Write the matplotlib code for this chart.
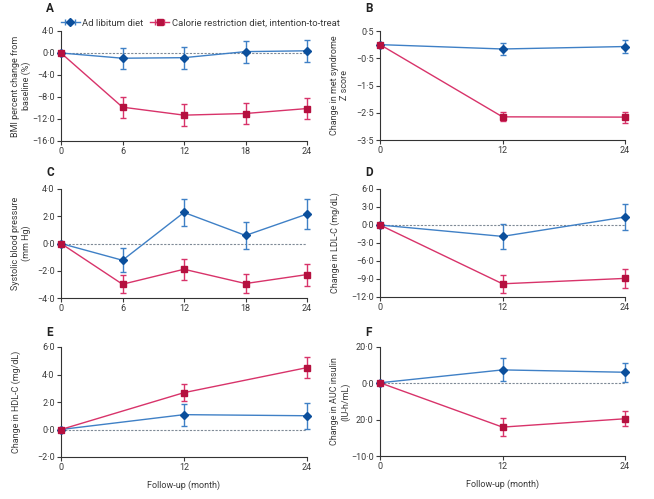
import numpy as np
import matplotlib
matplotlib.use("Agg")
import matplotlib.pyplot as plt

plt.rcParams['font.family'] = ['Roboto', 'DejaVu Sans']
plt.rcParams['font.size'] = 6.5

# data (mean, +/- error)
m5 = [0, 6, 12, 18, 24]
m3 = [0, 12, 24]

bmi_al = [0, -0.95, -0.85, 0.25, 0.4]
bmi_al_err = [0, 1.9, 2.0, 2.0, 1.95]
bmi_cr = [0, -9.85, -11.3, -11.0, -10.1]
bmi_cr_err = [0, 1.9, 2.0, 1.95, 1.95]

met_al = [0, -0.16, -0.07]
met_al_err = [0, 0.21, 0.24]
met_cr = [0, -2.65, -2.66]
met_cr_err = [0, 0.16, 0.2]

sbp_al = [0, -1.23, 2.28, 0.59, 2.16]
sbp_al_err = [0, 0.87, 1.02, 0.96, 1.07]
sbp_cr = [0, -2.99, -1.89, -2.94, -2.28]
sbp_cr_err = [0, 0.65, 0.78, 0.72, 0.81]

ldl_al = [0, -1.9, 1.33]
ldl_al_err = [0, 2.05, 2.15]
ldl_cr = [0, -9.8, -8.9]
ldl_cr_err = [0, 1.5, 1.65]

hdl_al = [0, 1.08, 1.0]
hdl_al_err = [0, 0.8, 0.96]
hdl_cr = [0, 2.68, 4.5]
hdl_cr_err = [0, 0.6, 0.76]

auc_al = [0.3, 7.4, 6.1]
auc_al_err = [0, 6.3, 5.3]
auc_cr = [0.3, -24.1, -19.5]
auc_cr_err = [0, 4.8, 4.2]

blue_line, blue_mk = '#3f80c6', '#0b4f9c'
red_line, red_mk = '#d8336a', '#b5103f'
txt = '#3a3a3a'

W, H = 654, 499


def box(l, t, r, b):
    return [l / W, 1 - b / H, (r - l) / W, (b - t) / H]


def fmt(v):
    s = f"{abs(v):.1f}".replace('.', '\u00b7')
    return ('\u2212' if v < 0 else '') + s


fig = plt.figure(figsize=(W / 100, H / 100), dpi=100)

# letter, axes box (px), letter y (px), x, series..., y ticks, tick labels, y title, zero line, x title
panels = [
    ("A", (61, 31, 307, 141), 8, m5, bmi_al, bmi_al_err, bmi_cr, bmi_cr_err,
     [4, 0, -4, -8, -12, -16], None, "BMI percent change from\nbaseline (%)", True, False),
    ("B", (380, 31, 625, 140), 8, m3, met_al, met_al_err, met_cr, met_cr_err,
     [0.5, -0.5, -1.5, -2.5, -3.5], None, "Change in met syndrome\nZ score", False, False),
    ("C", (61, 189, 307, 298), 173, m5, sbp_al, sbp_al_err, sbp_cr, sbp_cr_err,
     [4, 2, 0, -2, -4], None, "Systolic blood pressure\n(mm Hg)", True, False),
    ("D", (380, 189, 625, 297), 173, m3, ldl_al, ldl_al_err, ldl_cr, ldl_cr_err,
     [6, 3, 0, -3, -6, -9, -12], None, "Change in LDL-C (mg/dL)", True, False),
    ("E", (61, 347, 307, 457), 333, m3, hdl_al, hdl_al_err, hdl_cr, hdl_cr_err,
     [6, 4, 2, 0, -2], None, "Change in HDL-C (mg/dL)", True, True),
    ("F", (380, 347, 625, 456), 333, m3, auc_al, auc_al_err, auc_cr, auc_cr_err,
     [20, 0, -20, -40], ["20\u00b70", "0\u00b70", "20\u00b70", "\u221210\u00b70"],
     "Change in AUC insulin\n(IU-h/mL)", True, True),
]

axes = []
for letter, px, ly, xs, al, al_e, cr, cr_e, yt, ylab, ytitle, zero, xl in panels:
    ax = fig.add_axes(box(*px))
    axes.append(ax)
    if zero:
        ax.plot([0, 24], [0, 0], color='#7f8a96', lw=0.8, ls=(0, (2, 1.3)), zorder=1)
    ax.errorbar(xs, al, yerr=al_e, color=blue_line, lw=1, marker='D', ms=4,
                mfc=blue_mk, mec=blue_mk, ecolor=blue_line, elinewidth=1,
                capsize=2.5, capthick=1, clip_on=False, zorder=3)
    ax.errorbar(xs, cr, yerr=cr_e, color=red_line, lw=1, marker='s', ms=5,
                mfc=red_mk, mec=red_mk, ecolor=red_line, elinewidth=1,
                capsize=2.5, capthick=1, clip_on=False, zorder=4)
    ax.set_xlim(0, 24)
    ax.set_ylim(min(yt), max(yt))
    ax.set_xticks(xs)
    ax.set_yticks(yt)
    ax.set_yticklabels(ylab if ylab else [fmt(v) for v in yt])
    for s in ['top', 'right']:
        ax.spines[s].set_visible(False)
    for s in ['left', 'bottom']:
        ax.spines[s].set_linewidth(0.8)
        ax.spines[s].set_color('#333333')
    ax.tick_params(length=3, width=0.8, pad=1.5, colors=txt, labelsize=6.5)
    # y title: left edge of first line about 50 px left of the axis
    fig.text((px[0] - 50) / W, 1 - (px[1] + px[3]) / 2 / H, ytitle, rotation=90,
             ha='left', va='center', multialignment='center', fontsize=6.5, color=txt)
    if xl:
        ax.set_xlabel("Follow-up (month)", fontsize=6.5, color=txt, labelpad=6)
    fig.text((px[0] - 11) / W, 1 - ly / H, letter, fontsize=8.5,
             fontweight='bold', va='center', ha='center', color='#222222')

# legend with horizontal error bar handles
h_al = axes[0].errorbar([np.nan], [np.nan], xerr=[np.nan], color=blue_line, lw=1,
                        marker='D', ms=4, mfc=blue_mk, mec=blue_mk, capsize=2.5)
h_cr = axes[0].errorbar([np.nan], [np.nan], xerr=[np.nan], color=red_line, lw=1,
                        marker='s', ms=5, mfc=red_mk, mec=red_mk, capsize=2.5)
fig.legend([h_al, h_cr], ["Ad libitum diet", "Calorie restriction diet, intention-to-treat"],
           loc='center left', bbox_to_anchor=(56 / W, 1 - 23 / H), ncol=2, frameon=False,
           fontsize=6.8, handlelength=2.0, handletextpad=0.3, columnspacing=0.7,
           borderpad=0, labelcolor=txt)

fig.savefig("out.png", dpi=100)
